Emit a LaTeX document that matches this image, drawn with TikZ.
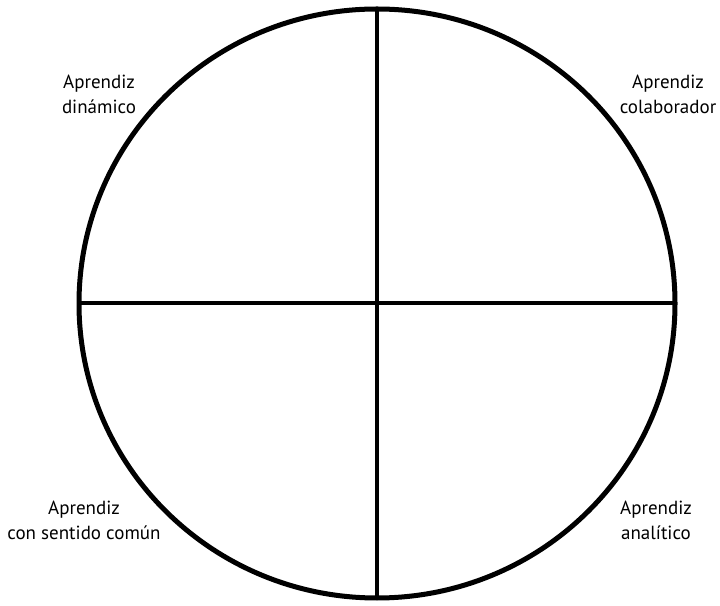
\documentclass[tikz,border=0pt]{standalone}
\usepackage{fontspec}
\setmainfont{PT Sans}
\usetikzlibrary{shapes.geometric}
\begin{document}
\begin{tikzpicture}[x=1pt,y=1pt,
  lbl/.style={align=center, font=\fontsize{19}{25}\selectfont, inner sep=0pt},
  rim/.style={ellipse, draw, line width=5pt, inner sep=0pt, outer sep=0pt},
  axis/.style={line width=4pt}]
\useasboundingbox (0,0) rectangle (720,605);
\node[rim, minimum width=596pt, minimum height=589pt] (c) at (377,301.5) {};
\draw[axis] (c.north) -- (c.south);
\draw[axis] (c.west) -- (c.east);
\node[lbl] (tl) at (99,510.5) {Aprendiz\\dinámico};
\node[lbl] (tr) at (668,510.5) {Aprendiz\\colaborador};
\node[lbl] (bl) at (84,85) {Aprendiz\\con sentido común};
\node[lbl] (br) at (656,84.5) {Aprendiz\\analítico};
\end{tikzpicture}
\end{document}
